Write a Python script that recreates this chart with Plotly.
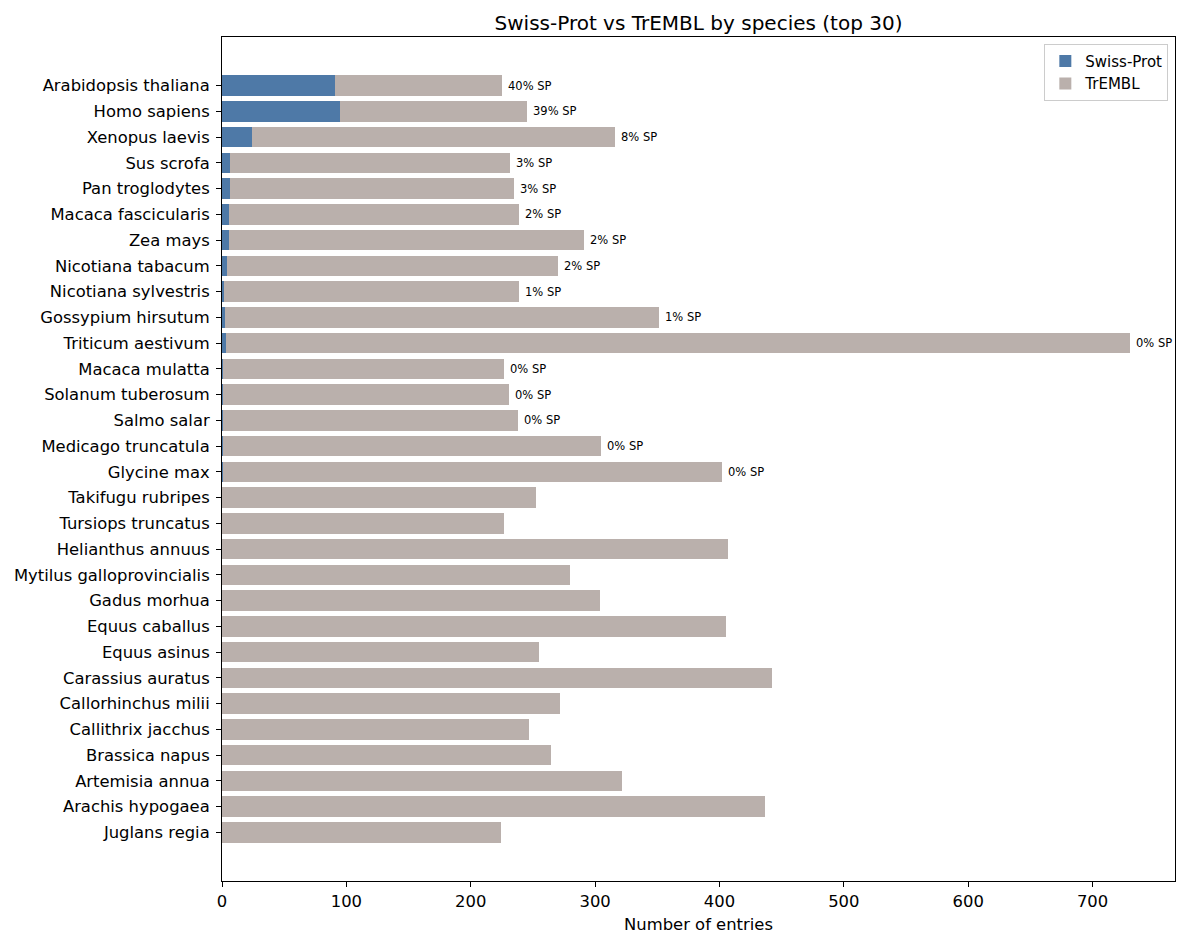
import plotly.graph_objects as go

species = ["Arabidopsis thaliana", "Homo sapiens", "Xenopus laevis", "Sus scrofa",
           "Pan troglodytes", "Macaca fascicularis", "Zea mays", "Nicotiana tabacum",
           "Nicotiana sylvestris", "Gossypium hirsutum", "Triticum aestivum",
           "Macaca mulatta", "Solanum tuberosum", "Salmo salar", "Medicago truncatula",
           "Glycine max", "Takifugu rubripes", "Tursiops truncatus", "Helianthus annuus",
           "Mytilus galloprovincialis", "Gadus morhua", "Equus caballus", "Equus asinus",
           "Carassius auratus", "Callorhinchus milii", "Callithrix jacchus",
           "Brassica napus", "Artemisia annua", "Arachis hypogaea", "Juglans regia"]

swissprot = [91, 95, 24.5, 6.7, 6.2, 5.5, 5.9, 4.3, 2.0, 2.2, 3.5,
             0.5, 0.5, 0.5, 0.5, 0.5, 0, 0, 0, 0, 0, 0, 0, 0, 0, 0, 0, 0, 0, 0]

totals = [225, 245.6, 316.3, 231.2, 234.4, 239.2, 291.4, 270.5, 239.2, 351.2, 729.8,
          226.7, 230.6, 237.9, 304.5, 402, 252.5, 226.5, 407, 280, 304, 405.5, 255,
          442, 272, 247, 264.5, 321.5, 436.5, 224]

trembl = [round(t - s, 2) for t, s in zip(totals, swissprot)]
pct_labels = [f"{round(100 * s / t):.0f}% SP" if s > 0 else "" for s, t in zip(swissprot, totals)]

fig = go.Figure()
fig.add_trace(go.Bar(y=species, x=swissprot, orientation="h", name="Swiss-Prot",
                     marker=dict(color="#4e79a7", line=dict(width=0))))
fig.add_trace(go.Bar(y=species, x=trembl, orientation="h", name="TrEMBL",
                     marker=dict(color="#bab0ac", line=dict(width=0))))

for sp, tot, lab in zip(species, totals, pct_labels):
    if lab:
        fig.add_annotation(x=tot, y=sp, text=lab, showarrow=False, xanchor="left",
                           xshift=4, font=dict(size=11.5, color="black"))

n = len(species)
fig.update_layout(
    barmode="stack", bargap=0.2,
    width=1187, height=947,
    margin=dict(l=222, r=12, t=37, b=66),
    paper_bgcolor="white", plot_bgcolor="white",
    font=dict(family="DejaVu Sans", size=16, color="black"),
    title=dict(text="Swiss-Prot vs TrEMBL by species (top 30)", x=0.5, xref="paper",
               xanchor="center", y=1, yref="paper", yanchor="bottom", pad=dict(b=7),
               font=dict(size=20)),
    legend=dict(x=0.993, y=0.992, xanchor="right", yanchor="top",
                bordercolor="#cccccc", borderwidth=1, bgcolor="white",
                font=dict(size=15), traceorder="normal"),
    showlegend=True,
)
fig.update_xaxes(range=[0, 729.8 * 1.05], showline=True, linecolor="black", linewidth=1,
                 mirror=True, ticks="outside", ticklen=5, tickcolor="black",
                 showgrid=False, zeroline=False, tick0=0, dtick=100,
                 title=dict(text="Number of entries", standoff=8, font=dict(size=16.4)),
                 tickfont=dict(size=16.4))
fig.update_yaxes(categoryorder="array", categoryarray=species,
                 range=[n - 1 + 1.89, -1.89], showline=True, linecolor="black",
                 linewidth=1, mirror=True, ticks="outside", ticklen=5,
                 tickcolor="black", showgrid=False, zeroline=False,
                 ticklabelstandoff=3, tickfont=dict(size=16.4))

fig.write_html("out.html")
